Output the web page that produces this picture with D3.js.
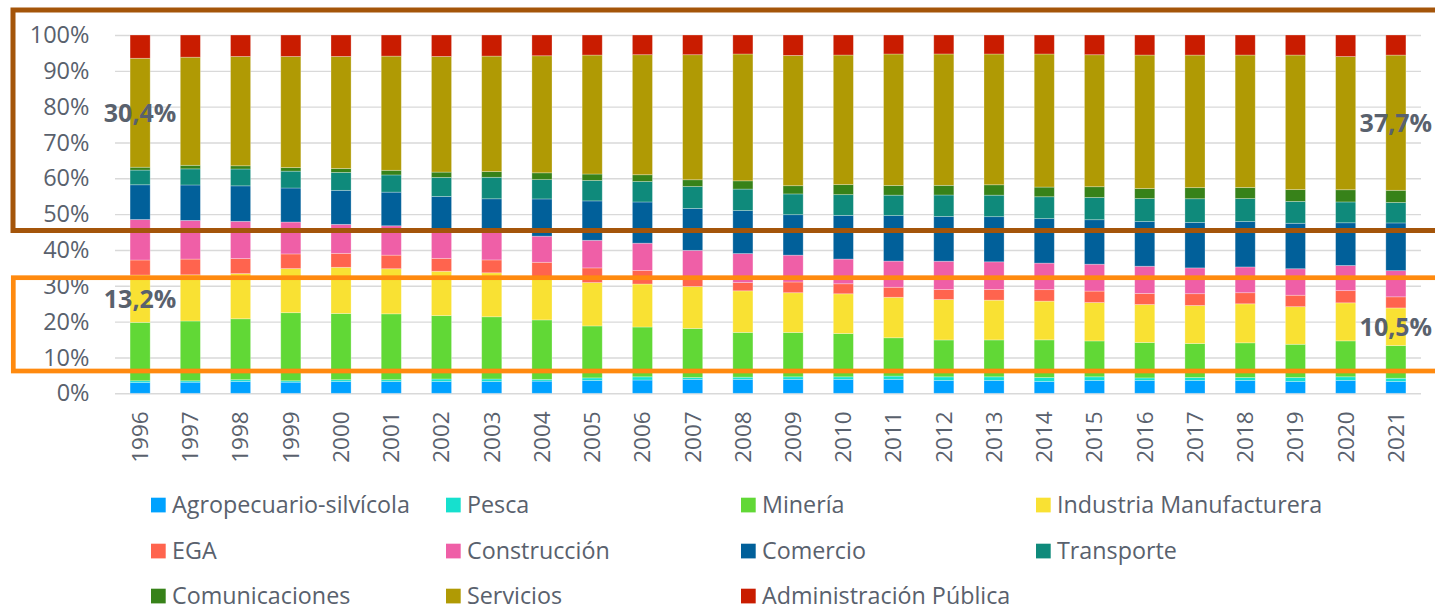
<!DOCTYPE html>
<html>
<head>
<meta charset="utf-8">
<script src="https://cdn.jsdelivr.net/npm/d3@7"></script>
<style>
  html, body { margin: 0; padding: 0; background: #ffffff; }
  svg { display: block; }
  text { font-family: "Open Sans", "Noto Sans", sans-serif; }
</style>
</head>
<body>
<svg id="chart" width="1435" height="612"></svg>
<script>
// ---------- DATA ----------
const years = ["1996","1997","1998","1999","2000","2001","2002","2003","2004","2005","2006","2007","2008","2009","2010","2011","2012","2013","2014","2015","2016","2017","2018","2019","2020","2021"];

const seriesNames = ["Agropecuario-silvícola","Pesca","Minería","Industria Manufacturera","EGA","Construcción","Comercio","Transporte","Comunicaciones","Servicios","Administración Pública"];

const agropecuario   = [3.0,3.1,3.3,3.1,3.3,3.3,3.3,3.3,3.4,3.6,3.7,3.9,3.9,3.9,3.9,3.9,3.6,3.6,3.3,3.6,3.6,3.6,3.6,3.3,3.6,3.3];
const pesca          = [0.5,0.4,0.5,0.4,0.5,0.5,0.7,0.7,0.5,0.7,0.9,0.5,0.6,0.7,0.7,0.9,1.0,1.0,1.1,1.0,0.7,0.8,0.8,1.1,1.0,0.9];
const mineria        = [16.3,16.7,17.0,19.0,18.5,18.4,17.7,17.4,16.6,14.5,13.9,13.7,12.5,12.4,12.1,10.7,10.3,10.3,10.5,10.0,9.9,9.5,9.7,9.3,10.0,9.1];
const industria      = [13.2,12.9,12.6,12.3,12.9,12.6,12.4,12.3,11.9,12.1,12.0,11.7,11.6,11.1,11.1,11.3,11.3,11.1,10.8,10.7,10.6,10.6,10.9,10.5,10.6,10.5];
const ega            = [4.2,4.4,4.2,4.1,3.9,3.8,3.6,3.6,4.2,4.1,3.8,2.8,2.3,3.0,2.8,2.8,2.8,3.0,3.2,3.2,3.1,3.3,3.1,3.2,3.4,3.1];
const construccion   = [11.3,10.8,10.4,8.9,8.1,8.2,7.9,8.1,7.3,7.7,7.6,7.3,8.1,7.5,6.9,7.3,7.9,7.7,7.4,7.5,7.6,7.2,7.2,7.4,7.0,7.3];
const comercio       = [9.7,9.9,9.9,9.5,9.5,9.4,9.4,9.0,10.4,11.0,11.5,11.7,12.0,11.3,12.2,12.7,12.5,12.6,12.4,12.4,12.5,12.7,12.7,12.7,11.9,13.3];
const transporte     = [4.1,4.5,4.7,4.7,5.0,4.8,5.3,6.0,5.4,5.7,5.7,6.1,6.0,5.8,5.8,5.7,6.0,6.0,6.1,6.2,6.4,6.6,6.4,6.1,5.8,5.7];
const comunicaciones = [0.8,1.0,0.9,1.0,1.1,1.3,1.5,1.6,1.9,1.8,1.9,1.9,2.3,2.3,2.8,2.7,2.7,2.9,2.7,3.0,2.8,3.1,3.1,3.3,3.4,3.4];
const servicios      = [30.4,30.2,30.5,31.0,31.3,31.9,32.3,32.3,32.7,33.2,33.5,34.9,35.4,36.4,36.2,36.7,36.7,36.5,37.1,36.8,37.3,37.0,37.0,37.6,37.1,37.7];
const administracion = [6.5,6.2,6.0,6.0,6.0,5.9,6.0,5.9,5.8,5.6,5.5,5.5,5.3,5.7,5.6,5.3,5.3,5.3,5.3,5.5,5.6,5.6,5.6,5.6,6.0,5.6];

const seriesValues = [agropecuario,pesca,mineria,industria,ega,construccion,comercio,transporte,comunicaciones,servicios,administracion];

const colors = ["#00A2FF","#16E0CE","#61D836","#F9E133","#FF644E","#EF5FA7","#01609A","#0F8A7B","#378219","#B09A04","#C91C00"];

const yTickValues = [0,0.1,0.2,0.3,0.4,0.5,0.6,0.7,0.8,0.9,1.0];

// Data labels shown on the chart (series, year, text)
const annotations = [
  {series: "Servicios", year: "1996", label: "30,4%"},
  {series: "Industria Manufacturera", year: "1996", label: "13,2%"},
  {series: "Servicios", year: "2021", label: "37,7%"},
  {series: "Industria Manufacturera", year: "2021", label: "10,5%"}
];

// ---------- BUILD ----------
const rows = years.map((y, i) => {
  const r = {year: y};
  seriesNames.forEach((s, j) => r[s] = seriesValues[j][i]);
  return r;
});

const stack = d3.stack().keys(seriesNames).offset(d3.stackOffsetExpand);
const stacked = stack(rows);

const svg = d3.select("#chart");
svg.append("rect").attr("width", 1435).attr("height", 612).attr("fill", "#fff");

const x = d3.scaleBand().domain(years).range([115, 1421]).paddingInner(0.6).paddingOuter(0.3);
const y = d3.scaleLinear().domain([0, 1]).range([393.3, 35]);
const color = d3.scaleOrdinal().domain(seriesNames).range(colors);

const textColor = "#59616D";

// gridlines
const yAxis = d3.axisLeft(y).tickValues(yTickValues).tickFormat(d3.format(".0%")).tickSize(-(1421 - 115)).tickPadding(25);
const gy = svg.append("g").attr("transform", "translate(115,0)").call(yAxis);
gy.select(".domain").remove();
gy.selectAll(".tick line").attr("stroke", "#D9D9D9").attr("stroke-width", 1.4);
gy.selectAll(".tick text").attr("fill", textColor).attr("font-size", 23.5).attr("x", -25.5);

// bars
const layer = svg.append("g").selectAll("g").data(stacked).join("g").attr("fill", d => color(d.key));
layer.selectAll("rect").data(d => d).join("rect")
  .attr("x", d => x(d.data.year))
  .attr("width", x.bandwidth())
  .attr("y", d => y(d[1]))
  .attr("height", d => y(d[0]) - y(d[1]))
  .attr("stroke", "rgba(255,255,255,0.35)")
  .attr("stroke-width", 0.8);

// x axis labels
const xAxis = d3.axisBottom(x).tickSize(0).tickPadding(0);
const gx = svg.append("g").attr("transform", "translate(0,393.3)").call(xAxis);
gx.select(".domain").remove();
gx.selectAll(".tick text")
  .attr("fill", textColor).attr("font-size", 22.5)
  .attr("text-anchor", "end")
  .attr("transform", "rotate(-90)")
  .attr("x", -18).attr("y", 0).attr("dy", "0.35em");

// highlight boxes
svg.append("rect").attr("x", 13).attr("y", 10).attr("width", 1450).attr("height", 220.5)
  .attr("fill", "none").attr("stroke", "#A4550A").attr("stroke-width", 5);
svg.append("rect").attr("x", 13.3).attr("y", 277.7).attr("width", 1450).attr("height", 93.3)
  .attr("fill", "none").attr("stroke", "#FF8A0F").attr("stroke-width", 4.7);

// data labels
annotations.forEach(a => {
  const s = stacked.find(d => d.key === a.series);
  const idx = years.indexOf(a.year);
  const seg = s[idx];
  svg.append("text")
    .attr("x", x(a.year) + x.bandwidth() / 2)
    .attr("y", y((seg[0] + seg[1]) / 2))
    .attr("dy", "0.36em")
    .attr("text-anchor", "middle")
    .attr("font-size", 25).attr("font-weight", 700)
    .attr("fill", textColor)
    .text(a.label);
});

// legend
const legendCols = [151, 446, 741, 1036];
const legendRows = [505, 551, 596];
const lg = svg.append("g");
seriesNames.forEach((s, i) => {
  const cx = legendCols[i % 4], cy = legendRows[Math.floor(i / 4)];
  lg.append("rect").attr("x", cx).attr("y", cy - 7.3).attr("width", 14.7).attr("height", 14.7).attr("fill", color(s));
  lg.append("text").attr("x", cx + 21).attr("y", cy).attr("dy", "0.36em")
    .attr("font-size", 23.3).attr("fill", textColor).text(s);
});
</script>
</body>
</html>
